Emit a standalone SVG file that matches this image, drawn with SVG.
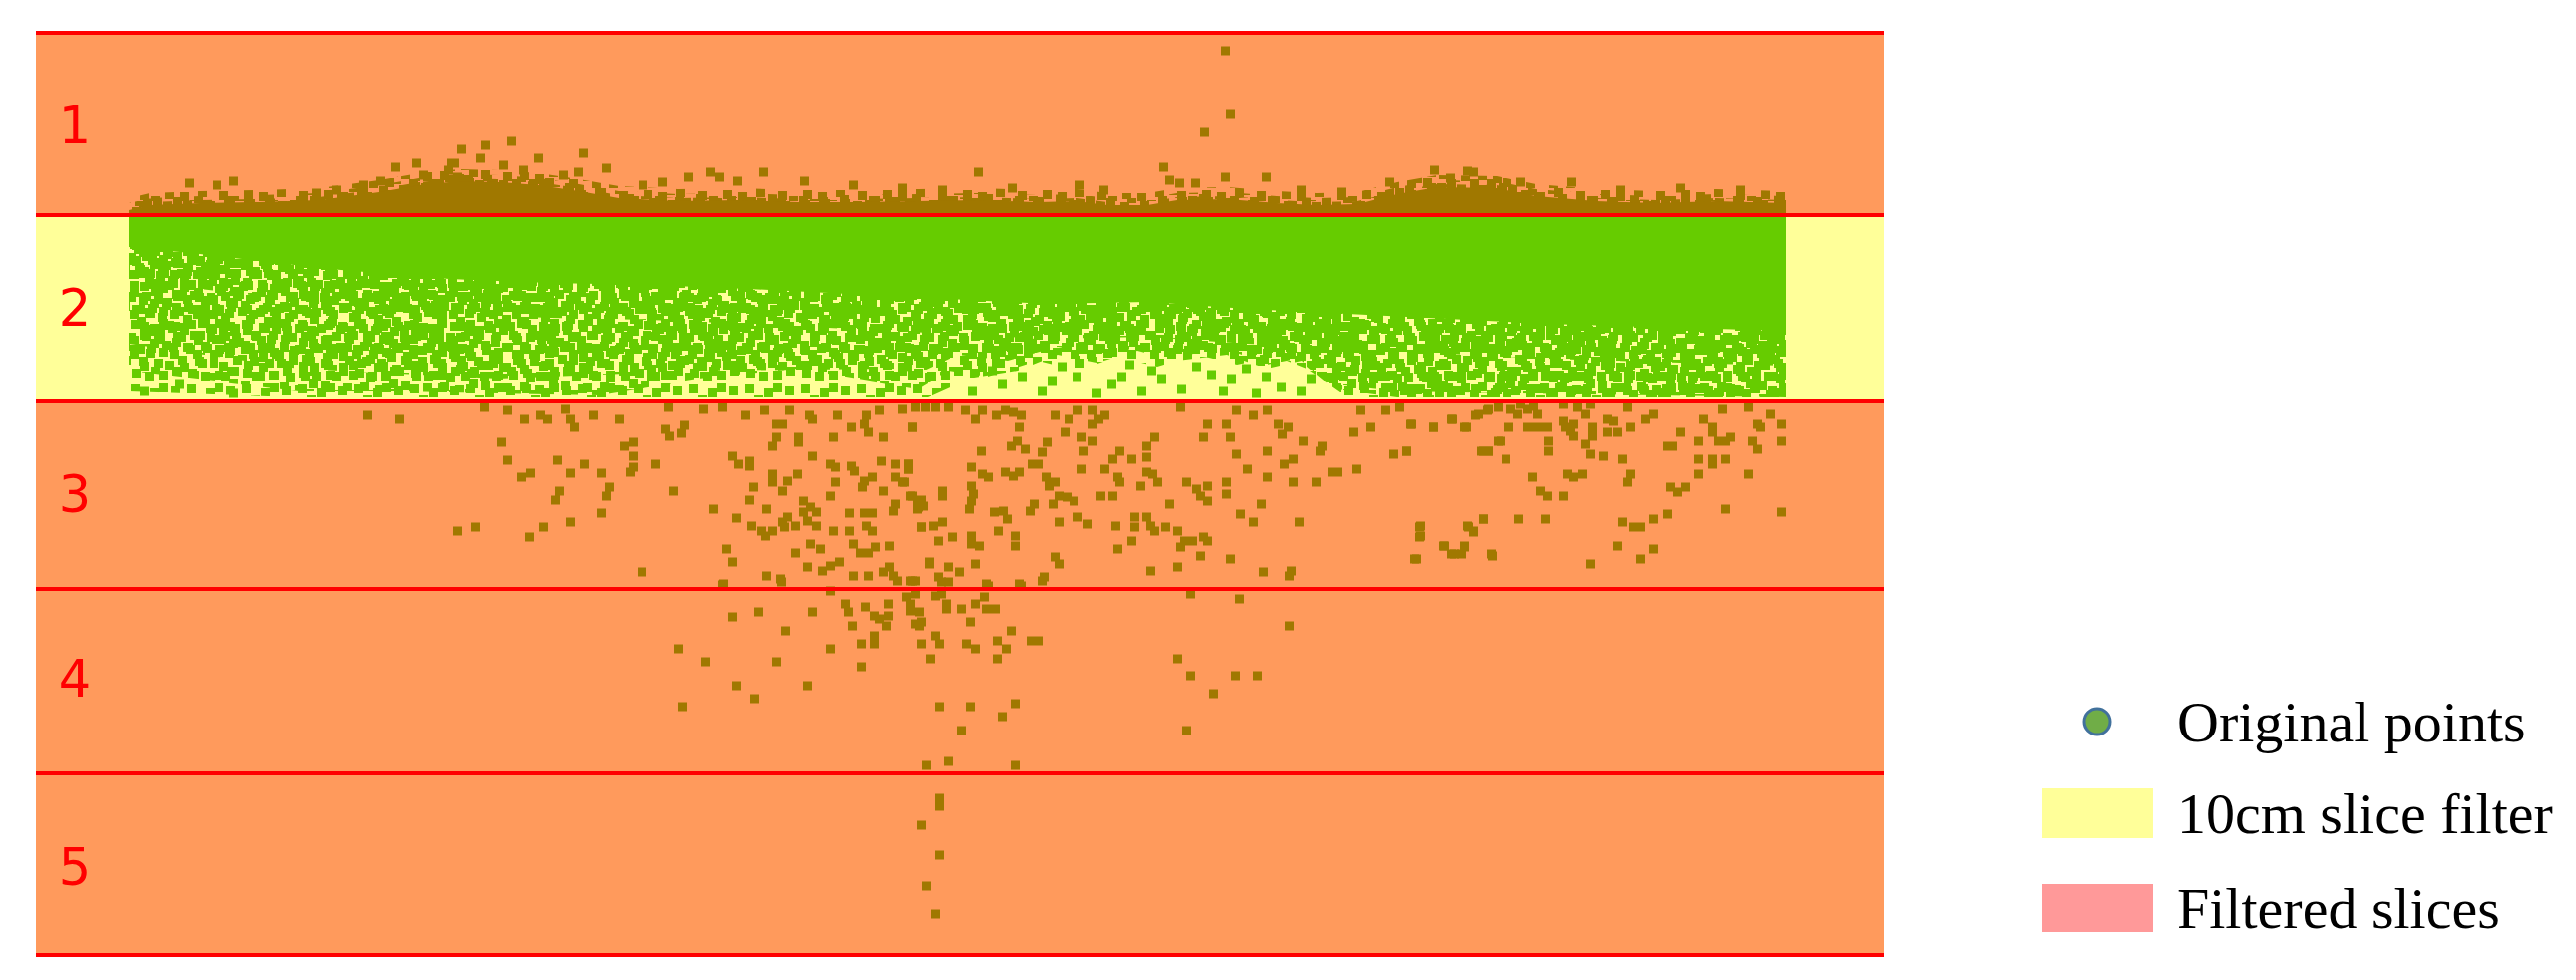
<svg xmlns="http://www.w3.org/2000/svg" width="2582" height="982" viewBox="0 0 2582 982">
<style>
.red{stroke:#FF0000;stroke-width:4;fill:none}
.lbl{font-family:"DejaVu Sans","Liberation Sans",sans-serif;font-size:51px;fill:#FF0000;text-anchor:middle}
.leg{font-family:"Liberation Serif","Times New Roman",serif;font-size:58px;fill:#000000}
.bp{fill:none;stroke:#A07800;stroke-width:9}
.gp{fill:none;stroke:#66CC00;stroke-width:9}
</style>
<defs>
<path id="t1" d="M2 1h9v9h-9zM26 0h9v9h-9zM44 3h9v9h-9zM11 9h9v9h-9zM35 11h9v9h-9zM55 8h9v9h-9zM4 18h9v9h-9zM20 17h9v9h-9zM47 20h9v9h-9zM30 26h9v9h-9zM55 28h9v9h-9zM9 30h9v9h-9zM17 38h9v9h-9zM40 37h9v9h-9zM52 39h9v9h-9zM28 39h9v9h-9z"/>
<path id="t2" d="M5 2h9v9h-9zM20 4h9v9h-9zM38 0h9v9h-9zM60 3h9v9h-9zM71 8h9v9h-9zM13 13h9v9h-9zM30 12h9v9h-9zM47 14h9v9h-9zM62 13h9v9h-9zM2 22h9v9h-9zM24 24h9v9h-9zM41 23h9v9h-9zM56 26h9v9h-9zM70 20h9v9h-9zM10 31h9v9h-9zM33 31h9v9h-9zM50 31h9v9h-9zM66 30h9v9h-9z"/>
<path id="t3" d="M3 3h9v9h-9zM19 1h9v9h-9zM38 5h9v9h-9zM47 0h9v9h-9zM9 14h9v9h-9zM28 12h9v9h-9zM44 16h9v9h-9zM1 24h9v9h-9zM18 26h9v9h-9zM35 25h9v9h-9zM47 29h9v9h-9zM10 37h9v9h-9zM27 38h9v9h-9zM42 40h9v9h-9zM4 48h9v9h-9zM20 50h9v9h-9zM33 53h9v9h-9zM47 52h9v9h-9z"/>
<path id="t4" d="M6 0h9v9h-9zM24 3h9v9h-9zM43 1h9v9h-9zM60 5h9v9h-9zM14 12h9v9h-9zM33 14h9v9h-9zM52 11h9v9h-9zM0 22h9v9h-9zM20 25h9v9h-9zM40 24h9v9h-9zM62 22h9v9h-9zM9 35h9v9h-9zM29 36h9v9h-9zM50 33h9v9h-9zM63 40h9v9h-9zM16 46h9v9h-9zM38 47h9v9h-9zM56 47h9v9h-9z"/>
<pattern id="g1" width="64" height="48" patternUnits="userSpaceOnUse"><use href="#t1" fill="#66CC00"/></pattern>
<pattern id="g2" width="80" height="40" patternUnits="userSpaceOnUse"><use href="#t2" fill="#66CC00"/></pattern>
<pattern id="g3" width="56" height="64" patternUnits="userSpaceOnUse"><use href="#t3" fill="#66CC00"/></pattern>
<pattern id="g4" width="72" height="56" patternUnits="userSpaceOnUse"><use href="#t4" fill="#66CC00"/></pattern>
<pattern id="b1" width="64" height="48" patternUnits="userSpaceOnUse"><use href="#t1" fill="#A07800"/></pattern>
<pattern id="b2" width="80" height="40" patternUnits="userSpaceOnUse"><use href="#t2" fill="#A07800"/></pattern>
<pattern id="b4" width="72" height="56" patternUnits="userSpaceOnUse"><use href="#t4" fill="#A07800"/></pattern>
<path id="strip" d="M129 213L129 210L150 205L200 203L260 202L320 200L380 192L420 185L460 181L500 182L540 185L580 191L620 198L680 201L740 200L800 202L860 202L920 201L980 200L1040 202L1080 201L1110 205L1150 205L1180 200L1230 199L1280 203L1320 205L1360 204L1400 194L1440 187L1500 188L1540 196L1600 201L1660 203L1720 201L1790 203L1790 213Z"/>
</defs>

<g id="background">
<rect x="36" y="33" width="1852" height="924" fill="#FF9A5C"/>
<rect x="36" y="215" width="1852" height="187" fill="#FFFF99"/>
</g>

<g id="filtered-points">
<path d="M129 217H1790V332L1650 328L1550 325L1450 320L1350 315L1250 310L1150 303L1050 305L950 300L850 295L750 290L650 286L550 284L450 280L330 270L260 262L200 255L129 248Z" fill="#66CC00"/>
<path d="M129 217H1790V367L1650 363L1550 360L1450 355L1350 350L1250 345L1150 338L1050 340L950 335L850 330L750 325L650 321L550 319L450 315L330 305L260 297L200 290L129 283Z" fill="url(#g4)"/>
<path d="M129 217H1790V398L1400 392L1330 384L1300 360L1270 366L1230 350L1190 356L1150 346L1110 356L1060 348L1010 362L960 356L920 375L900 370L700 372L500 380L300 370L129 345Z" fill="url(#g1)"/>
<path d="M129 217H1790V398L1400 398L1340 390L1310 370L1280 358L1240 366L1200 356L1160 368L1120 358L1080 372L1040 362L990 378L950 372L920 390L800 370L700 380L600 396L500 394L400 392L300 392L129 372Z" fill="url(#g2)"/>
<path d="M129 217H1790V398L1350 398L1330 384L1305 362L1270 370L1230 356L1180 362L1140 352L1100 364L1060 356L1020 372L970 380L930 398L300 398L129 392Z" fill="url(#g3)"/>
<path class="gp" d="M1000 385h9M1040 392h9M1120 378h9M1180 390h9M1230 380h9M1280 388h9M1075 378h9M1255 394h9M1140 392h9M1210 376h9M1160 380h9M1300 392h9M990 372h9M1060 368h9M1110 385h9M1195 368h9M1245 370h9M1020 378h9M1095 394h9M1150 372h9M1265 378h9M1310 380h9M1050 382h9M1222 392h9M1128 366h9M970 392h9M140 392h9M175 385h9M230 394h9"/>
</g>

<g id="slice-points">
<use href="#strip" transform="translate(0,-12)" fill="url(#b2)"/>
<use href="#strip" transform="translate(0,-7)" fill="url(#b4)"/>
<use href="#strip" transform="translate(0,-3)" fill="url(#b1)"/>
<use href="#strip" fill="#A07800"/>
<path class="bp" d="M392 167h9M413 163h9M458 149h9M482 145h9M508 141h9M535 158h9M580 153h9M477 158h9M448 163h9M575 172h9M377 181h9M230 181h9M185 183h9M213 185h9M333 190h9M360 185h9M313 193h9M143 203h9M603 168h9M686 177h9M708 172h9M717 177h9M735 181h9M761 172h9M802 181h9M851 185h9M976 172h9M1078 185h9M445 170h9M451 163h9M454 177h9M1224 51h9M1229 114h9M1203 132h9M1162 167h9M1224 177h9M1265 177h9M1388 182h9M1472 172h9M1571 182h9M1168 180h9M1178 183h9M1194 183h9M1102 190h9M1433 170h9M1449 178h9M1466 171h9M420 175h9M500 165h9M520 170h9M560 175h9M640 185h9M660 182h9M900 188h9M940 190h9M1010 188h9M1300 190h9M1340 192h9M1520 182h9M1620 190h9M1680 188h9M1740 190h9"/>
<path class="bp" d="M364 416h9M396 420h9M481 408h9M504 411h9M521 420h9M537 416h9M544 420h9M562 410h9M567 420h9M571 428h9M590 416h9M616 420h9M498 443h9M504 461h9M518 478h9M527 474h9M554 461h9M567 474h9M581 465h9M598 474h9M627 473h9M630 468h9M621 447h9M630 443h9M630 457h9M653 465h9M556 492h9M552 501h9M606 488h9M603 497h9M598 514h9M567 523h9M540 528h9M526 538h9M472 528h9M454 532h9M639 573h9M671 492h9M663 430h9M667 437h9M682 426h9M679 434h9M666 408h9M701 410h9M720 408h9M743 416h9M762 411h9M787 411h9M807 416h9M810 420h9M835 416h9M864 416h9M877 411h9M900 410h9M774 425h9M780 425h9M770 447h9M774 438h9M796 438h9M796 443h9M831 438h9M849 428h9M862 425h9M866 433h9M881 438h9M910 428h9M730 457h9M736 465h9M747 462h9M747 467h9M810 457h9M828 465h9M833 468h9M849 467h9M852 472h9M879 462h9M893 465h9M906 465h9M906 470h9M770 475h9M770 483h9M780 492h9M785 482h9M795 475h9M833 483h9M862 482h9M860 488h9M870 478h9M893 478h9M900 483h9M881 492h9M751 488h9M747 501h9M828 497h9M910 497h9M919 501h9M893 505h9M891 512h9M916 508h9M711 510h9M734 519h9M764 510h9M801 502h9M808 508h9M801 513h9M814 513h9M805 522h9M814 527h9M785 518h9M780 523h9M749 527h9M759 532h9M770 532h9M763 537h9M782 528h9M793 527h9M847 514h9M862 514h9M870 514h9M831 532h9M847 532h9M864 527h9M870 532h9M919 528h9M724 550h9M730 563h9M764 577h9M778 580h9M793 554h9M808 545h9M818 550h9M851 545h9M858 554h9M866 554h9M873 548h9M887 547h9M805 568h9M820 572h9M828 567h9M837 563h9M851 577h9M866 577h9M881 573h9M887 568h9M891 577h9M910 582h9M927 563h9M720 586h9"/>
<path class="bp" d="M913 408h9M923 408h9M933 408h9M946 408h9M963 411h9M980 411h9M994 416h9M1003 411h9M1011 413h9M1019 416h9M1053 416h9M1067 420h9M1076 411h9M1091 411h9M1103 416h9M1179 408h9M1235 411h9M1252 416h9M1266 411h9M1359 411h9M1384 411h9M1398 408h9M1451 420h9M1474 416h9M1486 411h9M1497 408h9M910 428h9M973 420h9M1017 428h9M1063 433h9M1080 438h9M1091 425h9M1097 420h9M1206 425h9M1225 425h9M1277 425h9M1287 428h9M1281 435h9M1352 433h9M1369 428h9M1409 425h9M1432 428h9M1465 428h9M979 452h9M1009 447h9M1015 442h9M1023 450h9M1045 443h9M1040 453h9M1036 465h9M1030 465h9M1082 452h9M1091 442h9M1153 438h9M1145 447h9M1202 438h9M1229 438h9M1302 442h9M1321 447h9M1319 452h9M1235 455h9M1266 452h9M1292 460h9M1283 465h9M1392 455h9M1405 452h9M1480 452h9M1487 452h9M1497 442h9M906 465h9M906 470h9M969 468h9M980 475h9M986 478h9M1003 473h9M1011 477h9M1017 473h9M1044 478h9M1047 487h9M1053 483h9M1080 470h9M1103 470h9M1111 460h9M1118 452h9M1130 460h9M1116 478h9M1118 483h9M1145 458h9M1145 473h9M1151 475h9M1156 483h9M1139 487h9M1185 483h9M1195 490h9M1206 487h9M1225 483h9M1225 495h9M1246 470h9M1266 478h9M1292 483h9M1315 483h9M1331 473h9M1336 473h9M1355 470h9M902 483h9M940 492h9M940 497h9M969 487h9M971 495h9M969 502h9M967 510h9M908 497h9M915 502h9M921 507h9M915 510h9M992 513h9M1001 512h9M1005 520h9M1032 505h9M1028 512h9M1051 505h9M1057 497h9M1065 498h9M1072 502h9M1099 497h9M1111 497h9M1168 505h9M1199 497h9M1206 502h9M1260 505h9M1239 515h9M919 528h9M931 527h9M940 523h9M936 542h9M950 538h9M969 537h9M969 545h9M977 547h9M996 532h9M1013 537h9M1013 547h9M1057 523h9M1076 518h9M1086 525h9M1114 527h9M1133 518h9M1133 528h9M1145 518h9M1149 527h9M1130 542h9M1153 532h9M1164 528h9M1176 532h9M1183 542h9M1191 542h9M1202 538h9M1206 542h9M1179 548h9M1199 557h9M1116 550h9M1252 523h9M1298 523h9M1419 527h9M1419 537h9M1466 527h9M1472 532h9M1482 520h9M1443 547h9M1453 555h9M1463 548h9M1491 557h9M1415 560h9M927 565h9M946 568h9M973 565h9M957 573h9M936 578h9M946 583h9M908 582h9M1053 558h9M1057 565h9M1042 578h9M1149 572h9M1176 568h9M1229 560h9M1262 573h9M1290 572h9M1288 577h9M986 587h9M1019 587h9"/>
<path class="bp" d="M1410 425h9M1432 428h9M1450 420h9M1463 428h9M1405 452h9M1482 452h9M1487 452h9M1477 415h9M1487 410h9M1500 442h9M1505 460h9M1508 428h9M1510 410h9M1517 415h9M1520 405h9M1527 410h9M1533 407h9M1537 415h9M1527 428h9M1533 428h9M1540 428h9M1547 428h9M1548 442h9M1548 452h9M1563 405h9M1563 422h9M1565 428h9M1570 432h9M1573 425h9M1573 437h9M1577 408h9M1585 415h9M1590 405h9M1592 428h9M1592 437h9M1585 445h9M1590 455h9M1603 457h9M1607 420h9M1613 422h9M1607 433h9M1617 433h9M1630 428h9M1622 460h9M1627 408h9M1645 420h9M1653 415h9M1630 475h9M1627 483h9M1667 447h9M1672 447h9M1680 433h9M1698 442h9M1703 420h9M1712 428h9M1712 433h9M1718 442h9M1725 442h9M1730 438h9M1722 410h9M1748 408h9M1770 415h9M1757 425h9M1760 428h9M1752 442h9M1757 450h9M1781 425h9M1781 442h9M1698 460h9M1712 460h9M1712 465h9M1725 460h9M1698 475h9M1748 475h9M1532 478h9M1567 475h9M1573 478h9M1582 475h9M1540 492h9M1547 497h9M1563 497h9M1670 488h9M1677 493h9M1685 488h9M1725 510h9M1781 513h9M1482 520h9M1518 520h9M1545 520h9M1418 528h9M1418 538h9M1467 528h9M1472 533h9M1442 547h9M1450 555h9M1460 555h9M1463 547h9M1490 555h9M1413 560h9M1622 523h9M1633 528h9M1640 528h9M1653 520h9M1667 515h9M1617 547h9M1653 550h9M1640 560h9M1590 565h9"/>
<path class="bp" d="M721 585h9M779 583h9M828 592h9M895 582h9M913 582h9M939 583h9M984 585h9M1017 585h9M1040 582h9M843 605h9M846 613h9M863 608h9M872 617h9M877 620h9M886 605h9M886 617h9M884 627h9M904 598h9M908 605h9M913 595h9M908 612h9M917 613h9M913 625h9M919 623h9M917 627h9M933 597h9M939 595h9M944 605h9M944 610h9M959 610h9M973 605h9M982 598h9M984 610h9M993 610h9M968 623h9M1009 632h9M995 642h9M1004 650h9M995 660h9M1029 642h9M1036 642h9M730 618h9M756 613h9M810 613h9M783 632h9M850 627h9M859 645h9M872 637h9M872 645h9M828 650h9M919 645h9M933 637h9M937 645h9M928 660h9M964 645h9M973 650h9M859 668h9M774 663h9M703 663h9M676 650h9M734 687h9M805 687h9M752 700h9M680 708h9M937 708h9M968 708h9M1013 705h9M1000 718h9M959 732h9M924 767h9M946 763h9M1013 767h9M937 800h9M937 808h9M919 827h9M937 857h9M924 888h9M933 916h9M1189 595h9M1238 600h9M1288 627h9M1176 660h9M1189 677h9M1234 677h9M1256 677h9M1212 695h9M1185 732h9"/>
</g>

<g id="slice-lines">
<path class="red" d="M36 33H1888M36 215H1888M36 402H1888M36 590H1888M36 775H1888M36 957H1888"/>
</g>

<g id="slice-labels">
<text class="lbl" x="75" y="143">1</text>
<text class="lbl" x="75" y="327">2</text>
<text class="lbl" x="75" y="513">3</text>
<text class="lbl" x="75" y="698">4</text>
<text class="lbl" x="75" y="887">5</text>
</g>

<g id="legend">
<g id="legend-original">
<circle cx="2102" cy="723" r="13" fill="#70AD47" stroke="#41719C" stroke-width="3"/>
<text class="leg" x="2182" y="743">Original points</text>
</g>
<g id="legend-filter">
<rect x="2047" y="790" width="111" height="50" fill="#FFFF99"/>
<text class="leg" x="2182" y="835">10cm slice filter</text>
</g>
<g id="legend-slices">
<rect x="2047" y="886" width="111" height="48" fill="#FF9999"/>
<text class="leg" x="2182" y="930">Filtered slices</text>
</g>
</g>
</svg>
